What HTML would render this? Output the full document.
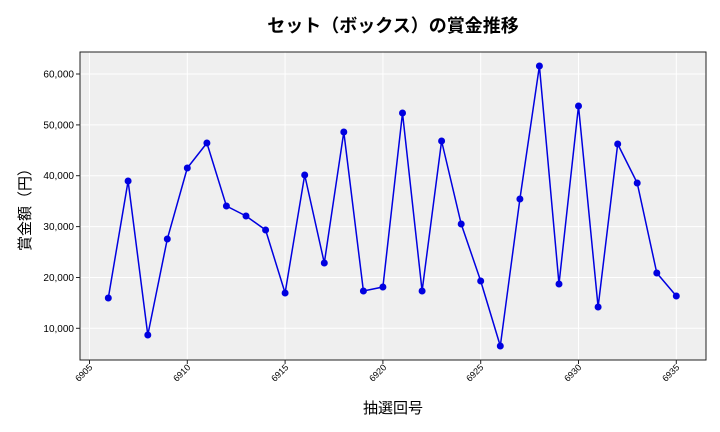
<!DOCTYPE html><html><head><meta charset="utf-8"><style>body{margin:0;background:#fff}svg{display:block}</style></head><body>
<svg width="720" height="432" xmlns="http://www.w3.org/2000/svg" font-family="Liberation Sans, Noto Sans CJK JP, sans-serif">
<rect x="80" y="52" width="626" height="308" fill="#efefef"/>
<g stroke="#fff" stroke-width="1">
<line x1="89.5" y1="52" x2="89.5" y2="360"/><line x1="187.3" y1="52" x2="187.3" y2="360"/><line x1="285.1" y1="52" x2="285.1" y2="360"/><line x1="382.9" y1="52" x2="382.9" y2="360"/><line x1="480.7" y1="52" x2="480.7" y2="360"/><line x1="578.5" y1="52" x2="578.5" y2="360"/><line x1="676.3" y1="52" x2="676.3" y2="360"/>
<line x1="80" y1="74" x2="706" y2="74"/><line x1="80" y1="124.9" x2="706" y2="124.9"/><line x1="80" y1="175.7" x2="706" y2="175.7"/><line x1="80" y1="226.6" x2="706" y2="226.6"/><line x1="80" y1="277.5" x2="706" y2="277.5"/><line x1="80" y1="328.3" x2="706" y2="328.3"/>
</g>
<rect x="80" y="52" width="626" height="308" fill="none" stroke="#222" stroke-width="1"/>
<g stroke="#222"><line x1="76" y1="74" x2="80" y2="74"/><line x1="76" y1="124.9" x2="80" y2="124.9"/><line x1="76" y1="175.7" x2="80" y2="175.7"/><line x1="76" y1="226.6" x2="80" y2="226.6"/><line x1="76" y1="277.5" x2="80" y2="277.5"/><line x1="76" y1="328.3" x2="80" y2="328.3"/>
<line x1="89.5" y1="360" x2="89.5" y2="364"/><line x1="187.3" y1="360" x2="187.3" y2="364"/><line x1="285.1" y1="360" x2="285.1" y2="364"/><line x1="382.9" y1="360" x2="382.9" y2="364"/><line x1="480.7" y1="360" x2="480.7" y2="364"/><line x1="578.5" y1="360" x2="578.5" y2="364"/><line x1="676.3" y1="360" x2="676.3" y2="364"/></g>
<g font-size="10" text-anchor="end" fill="#000"><text x="74" y="77.5">60,000</text><text x="74" y="128.4">50,000</text><text x="74" y="179.2">40,000</text><text x="74" y="230.1">30,000</text><text x="74" y="281">20,000</text><text x="74" y="331.8">10,000</text></g>
<g font-size="9" text-anchor="end" fill="#000">
<text transform="translate(93,368) rotate(-45)">6905</text><text transform="translate(191,368) rotate(-45)">6910</text><text transform="translate(289,368) rotate(-45)">6915</text><text transform="translate(387,368) rotate(-45)">6920</text><text transform="translate(484,368) rotate(-45)">6925</text><text transform="translate(582,368) rotate(-45)">6930</text><text transform="translate(680,368) rotate(-45)">6935</text></g>
<text x="393" y="32" font-size="18" font-weight="bold" text-anchor="middle">セット（ボックス）の賞金推移</text>
<text x="393" y="413" font-size="15" text-anchor="middle">抽選回号</text>
<text transform="translate(30,206) rotate(-90)" font-size="15" text-anchor="middle">賞金額（円）</text>
<g id="s"></g>
<polyline fill="none" stroke="#0000e0" stroke-width="1.5" points="108.3,298 128.1,181 147.8,335 167.3,239 187.3,168 206.9,143 226.4,206 246,216 265.6,230 285.1,293 304.7,175 324.3,263 343.8,132 363.4,291 382.9,287 402.5,113 422.1,291 441.6,141 461.2,224 480.7,281 500.3,346 519.9,199 539.4,66 559,284 578.5,106 598.1,307 617.7,144 637.2,183 656.8,273 676.3,296"/>
<g fill="#0000e0">
<circle cx="108.3" cy="298" r="3.5"/><circle cx="128.1" cy="181" r="3.5"/><circle cx="147.8" cy="335" r="3.5"/><circle cx="167.3" cy="239" r="3.5"/><circle cx="187.3" cy="168" r="3.5"/><circle cx="206.9" cy="143" r="3.5"/><circle cx="226.4" cy="206" r="3.5"/><circle cx="246" cy="216" r="3.5"/><circle cx="265.6" cy="230" r="3.5"/><circle cx="285.1" cy="293" r="3.5"/><circle cx="304.7" cy="175" r="3.5"/><circle cx="324.3" cy="263" r="3.5"/><circle cx="343.8" cy="132" r="3.5"/><circle cx="363.4" cy="291" r="3.5"/><circle cx="382.9" cy="287" r="3.5"/><circle cx="402.5" cy="113" r="3.5"/><circle cx="422.1" cy="291" r="3.5"/><circle cx="441.6" cy="141" r="3.5"/><circle cx="461.2" cy="224" r="3.5"/><circle cx="480.7" cy="281" r="3.5"/><circle cx="500.3" cy="346" r="3.5"/><circle cx="519.9" cy="199" r="3.5"/><circle cx="539.4" cy="66" r="3.5"/><circle cx="559" cy="284" r="3.5"/><circle cx="578.5" cy="106" r="3.5"/><circle cx="598.1" cy="307" r="3.5"/><circle cx="617.7" cy="144" r="3.5"/><circle cx="637.2" cy="183" r="3.5"/><circle cx="656.8" cy="273" r="3.5"/><circle cx="676.3" cy="296" r="3.5"/>
</g>
</svg></body></html>
